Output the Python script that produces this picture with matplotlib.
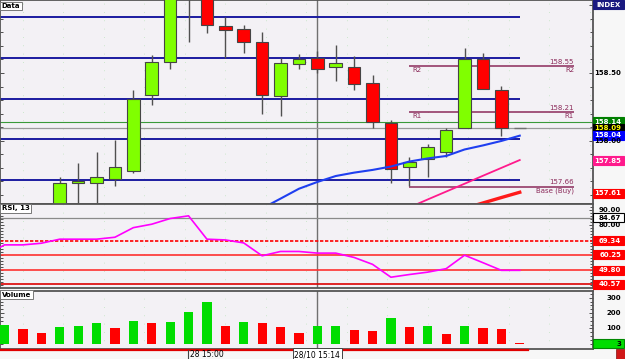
import matplotlib.pyplot as plt
import numpy as np
from matplotlib.patches import Rectangle
from matplotlib.lines import Line2D
from matplotlib.transforms import blended_transform_factory

# candles: bar index, open, high, low, close
c_idx = list(range(3, 29))
c_open = [157.50, 157.688, 157.688, 157.717, 157.778, 158.340, 158.579, 159.20, 159.10, 158.845,
          158.823, 158.731, 158.332, 158.564, 158.613, 158.547, 158.542, 158.426, 158.129, 157.804,
          157.863, 157.919, 158.092, 158.601, 158.374, 158.09]
c_high = [157.734, 157.835, 157.917, 158.005, 158.374, 158.633, 159.15, 159.30, 159.15, 158.916,
          158.855, 158.805, 158.609, 158.640, 158.665, 158.707, 158.626, 158.483, 158.153, 157.882,
          157.973, 158.096, 158.682, 158.645, 158.404, 158.09]
c_low = [157.45, 157.50, 157.52, 157.665, 157.764, 158.264, 158.532, 158.731, 158.795, 158.609,
         158.645, 158.195, 158.185, 158.530, 158.498, 158.443, 158.374, 158.096, 157.685, 157.668,
         157.734, 157.882, 158.092, 158.382, 158.035, 158.09]
c_close = [157.690, 157.702, 157.730, 157.806, 158.308, 158.581, 159.10, 159.10, 158.852, 158.820,
           158.731, 158.340, 158.572, 158.601, 158.530, 158.572, 158.421, 158.140, 157.789, 157.840,
           157.953, 158.079, 158.601, 158.382, 158.092, 158.09]

# moving averages
ma1_idx = list(range(14, 29))
ma1 = [157.50, 157.572, 157.645, 157.695, 157.739, 157.764, 157.784, 157.809, 157.846, 157.869,
       157.887, 157.935, 157.965, 157.998, 158.037]
ma2_idx = list(range(22, 29))
ma2 = [157.507, 157.566, 157.624, 157.682, 157.741, 157.799, 157.857]
ma3_idx = [25, 26, 27, 28]
ma3 = [157.50, 157.540, 157.580, 157.619]

grid_levels = [157.71, 158.01, 158.31, 158.61, 158.91]
pivots = [158.55, 158.21, 157.66]
pivot_names = ['R2', 'R1', 'Base (Buy)']

# RSI 13
rsi_idx = list(range(-1, 29))
rsi = [60.0, 66.7, 66.7, 67.8, 70.5, 70.5, 70.5, 71.8, 78.2, 80.5, 84.3, 86.1, 70.5, 70.0, 68.0,
       59.4, 62.3, 62.3, 61.2, 61.2, 58.3, 53.7, 45.1, 46.9, 48.5, 50.8, 59.8, 54.8, 49.7, 49.7]
rsi_levels = [69.34, 60.25, 49.80, 40.57]

# volume
vol = [122, 93, 67, 109, 117, 133, 102, 148, 133, 143, 204, 272, 115, 141, 133, 109, 67, 113,
       115, 89, 80, 170, 109, 113, 61, 117, 102, 96, 3]

cursor_idx = 17
xmin, xmax = -0.245, 31.98

W, H = 625, 359
fig = plt.figure(figsize=(W / 100, H / 100), dpi=100, facecolor='#f7f7f7')
bg = '#f3f1f5'
spine_c = '#555555'


def make_ax(top, bottom):
    ax = fig.add_axes([0, 1 - bottom / H, 593 / W, (bottom - top) / H], facecolor=bg)
    ax.set_xlim(xmin, xmax)
    for s in ax.spines.values():
        s.set_color(spine_c)
        s.set_linewidth(1.3)
    ax.tick_params(axis='x', bottom=False, labelbottom=False)
    ax.tick_params(axis='y', which='both', left=True, right=True, direction='in',
                   labelleft=False, labelright=False, color='#333333', width=0.6)
    ax.tick_params(axis='y', which='major', length=3)
    ax.tick_params(axis='y', which='minor', length=2)
    ax.axvline(cursor_idx, color='#707070', lw=1, zorder=1)
    for xx in np.arange(1, 32, 2.2):
        ax.axvline(xx, color='#bfe3bf', lw=0.6, ls=(0, (1, 9)), zorder=0)
    return ax


def side(ax, val, txt, fc=None, tc='black', ec=None):
    tr = blended_transform_factory(ax.transAxes, ax.transData)
    y0, y1 = ax.get_ylim()
    unit = (y1 - y0) / ax.bbox.height
    if fc is not None:
        ax.add_patch(Rectangle((1.0, val - 4.5 * unit), 31 / 593, 9 * unit, transform=tr,
                               clip_on=False, fc=fc, ec=ec if ec else fc, lw=0.8, zorder=6))
    ax.text(621 / 593, val, txt, transform=tr, ha='right', va='center', fontsize=5,
            weight='bold', color=tc, clip_on=False, zorder=7)


def corner(ax, txt):
    ax.text(0.003, 0.985, txt, transform=ax.transAxes, ha='left', va='top', fontsize=5,
            weight='bold', zorder=8,
            bbox=dict(boxstyle='square,pad=0.2', fc='white', ec='#777777', lw=0.7))


# ---------------- price panel
ax1 = make_ax(0, 203.5)
ax1.set_ylim(157.536, 159.039)
ax1.set_yticks([158.0, 158.5, 159.0])
ax1.set_yticks(np.arange(157.6, 159.05, 0.1), minor=True)

for lv in grid_levels:
    ax1.hlines(lv, xmin, 28, color='#1c1ca0', lw=1.4, zorder=2)
ax1.axhline(158.14, color='#3a9a3a', lw=0.8, zorder=2)
ax1.axhline(158.09, color='#9a9a9a', lw=0.9, zorder=2)

for lv, nm in zip(pivots, pivot_names):
    ax1.hlines(lv, 22, 30.95, color='#8b2a5a', lw=1.1, zorder=2)
    ax1.text(30.95, lv + 0.012, '%.2f' % lv, ha='right', va='bottom', fontsize=5, color='#8b2a5a', zorder=3)
    ax1.text(30.95, lv - 0.008, nm, ha='right', va='top', fontsize=5, color='#8b2a5a', zorder=3)
    if nm != 'Base (Buy)':
        ax1.text(22.15, lv - 0.008, nm, ha='left', va='top', fontsize=5, color='#8b2a5a', zorder=3)

for x, o, h, l, c in zip(c_idx, c_open, c_high, c_low, c_close):
    ax1.vlines(x, l, h, color='#505050', lw=1, zorder=4)
    if o == c:
        ax1.hlines(c, x - 0.34, x + 0.34, color='#707070', lw=1, zorder=5)
    else:
        col = '#80ff00' if c > o else '#ff0000'
        ax1.bar(x, c - o, bottom=o, width=0.68, color=col, edgecolor='#454545', lw=0.8, zorder=5)

ax1.plot(ma1_idx, ma1, color='#1f3ff0', lw=1.5, zorder=6)
ax1.plot(ma2_idx, ma2, color='#ff1a8c', lw=1.3, zorder=6)
ax1.plot(ma3_idx, ma3, color='#ff1a1a', lw=2.4, zorder=6)
corner(ax1, 'Data')

side(ax1, 158.5, '158.50')
side(ax1, 158.0, '158.00')
side(ax1, 159.005, 'INDEX', fc='#1a1a80', tc='white')
side(ax1, 158.14, '158.14', fc='#008000', tc='white')
side(ax1, 158.09, '158.09', fc='black', tc='#ffff00')
side(ax1, 158.04, '158.04', fc='#0000ff', tc='white')
side(ax1, 157.85, '157.85', fc='#ff1a8c', tc='white')
side(ax1, 157.61, '157.61', fc='#ff0000', tc='white')

# ---------------- RSI panel
ax2 = make_ax(204, 288)
ax2.set_ylim(37.9, 94.0)
ax2.set_yticks([80, 90])
ax2.set_yticks(np.arange(40, 94, 2), minor=True)
ax2.axhline(84.67, color='#8a8a8a', lw=0.9, zorder=2)
ax2.axhline(rsi_levels[0], color='#ff0000', lw=1.2, ls=(0, (2, 1)), zorder=2)
ax2.axhline(rsi_levels[1], color='#ff3030', lw=1.2, zorder=2)
ax2.axhline(rsi_levels[2], color='#ff3030', lw=1.2, zorder=2)
ax2.axhline(rsi_levels[3], color='#dd0000', lw=1.2, zorder=2)
ax2.plot(rsi_idx, rsi, color='#ff00ff', lw=1.2, zorder=5)
corner(ax2, 'RSI, 13')
side(ax2, 90, '90.00')
side(ax2, 80, '80.00')
side(ax2, 84.67, '84.67', fc='white', tc='black', ec='black')
for lv in rsi_levels:
    side(ax2, lv, '%.2f' % lv, fc='#ff0000', tc='white')

# ---------------- volume panel
ax3 = make_ax(291, 349)
ax3.set_ylim(-34.6, 344)
ax3.set_yticks([100, 200, 300])
ax3.set_yticks(np.arange(0, 344, 25), minor=True)
vx = np.arange(len(vol))
vcol = ['#00dd00'] + ['#00dd00' if d > 0 else '#ff0000' for d in np.diff(vol)]
ax3.bar(vx, vol, width=0.5, color=vcol, edgecolor='none', zorder=4)
corner(ax3, 'Volume')
for v in [100, 200, 300]:
    side(ax3, v, str(v))
side(ax3, 0, str(vol[-1]), fc='#00dd00', tc='black', ec='#008800')

# ---------------- bottom date axis
fig.add_artist(Line2D([0, 528 / W], [1 - 349.8 / H] * 2, color='#e00000', lw=1.6))
fig.add_artist(Line2D([188 / W] * 2, [1 - 349.5 / H, 1 - 359 / H], color='#444444', lw=0.8))
fig.text(190 / W, 1 - 354.5 / H, '28 15:00', ha='left', va='center', fontsize=5.5)
cx = 4.5 + 18.4 * cursor_idx
fig.text(cx / W, 1 - 354.5 / H, '28/10 15:14', ha='center', va='center', fontsize=5.5,
         bbox=dict(boxstyle='square,pad=0.2', fc='white', ec='#444444', lw=0.7))
fig.add_artist(Rectangle((616 / W, 0), 9 / W, 10 / H, transform=fig.transFigure,
                         fc='#d01818', ec='#801010', lw=0.5))

plt.savefig('out.png', dpi=100, facecolor=fig.get_facecolor())
